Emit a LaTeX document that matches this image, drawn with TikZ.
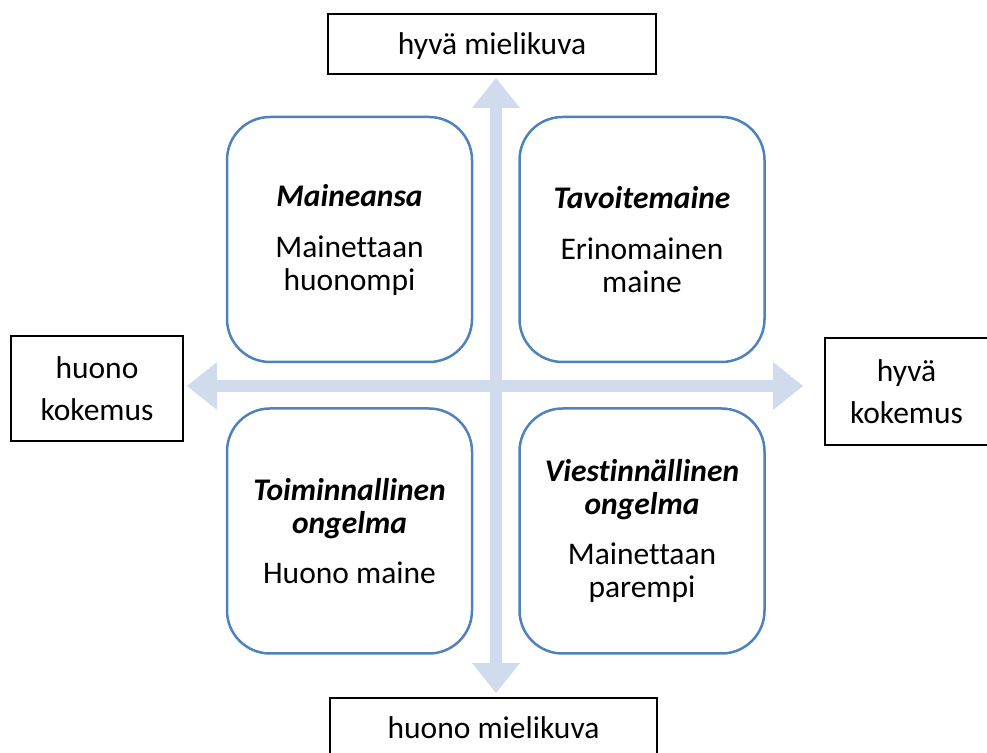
\documentclass[tikz,border=0pt]{standalone}
\usepackage{fontspec}
\setmainfont{Carlito}[Ligatures=CommonOff]
\usetikzlibrary{arrows.meta,positioning}
\definecolor{kehys}{RGB}{79,129,189}
\definecolor{akseli}{RGB}{208,220,238}

\begin{document}
\begin{tikzpicture}[x=1pt,y=1pt,
every node/.style={font=\fontsize{31.5}{33}\selectfont, align=center},
ruutu/.style={draw=kehys, line width=2.5pt, rounded corners=43pt, minimum width=245pt, minimum height=245pt, inner sep=0pt},
laatikko/.style={draw, line width=1.2pt, inner sep=0pt},
kylki/.style={laatikko, font=\fontsize{31.5}{42}\selectfont},
akseli/.style={draw=akseli, line width=12pt, >={Triangle[width=48pt,length=30pt,line width=0pt]}, <->},
]
\useasboundingbox (0,0) rectangle (987,752);

% akselit
\coordinate (ylos) at (496,674);
\coordinate (alas) at (496,59);
\coordinate (vasen) at (187,366);
\coordinate (oikea) at (803,366);
\draw[akseli] (alas) -- (ylos);
\draw[akseli] (vasen) -- (oikea);

% akselien paat
\node[laatikko, minimum width=328pt, minimum height=60pt, text depth=0pt] (mielikuva hyva) at (492,708) {hyvä mielikuva};
\node[laatikko, minimum width=327pt, minimum height=60pt] (mielikuva huono) at (493.5,24) {huono mielikuva};
\node[kylki, minimum width=172pt, minimum height=105pt] (kokemus huono) at (97,363.5) {huono\\kokemus};
\node[kylki, minimum width=163pt, minimum height=107pt] (kokemus hyva) at (906.5,360.5) {hyvä\\kokemus};

% nelikentta
\node[ruutu] (ansa) at (349.5,512.5) {\textbf{\textit{Maineansa}}\\[18pt]Mainettaan\\huonompi};
\node[ruutu, right=45pt of ansa] (tavoite) {\textbf{\textit{Tavoitemaine}}\\[18pt]Erinomainen\\maine};
\node[ruutu, below=44pt of ansa] (toiminta) {\textbf{\textit{Toiminnallinen}}\\\textbf{\textit{ongelma}}\\[17pt]Huono maine};
\node[ruutu, right=45pt of toiminta] (viestinta) {\textbf{\textit{Viestinnällinen}}\\\textbf{\textit{ongelma}}\\[17pt]Mainettaan\\parempi};
%\node[ruutu] at (639.5,223.5) {};
\end{tikzpicture}
\end{document}
